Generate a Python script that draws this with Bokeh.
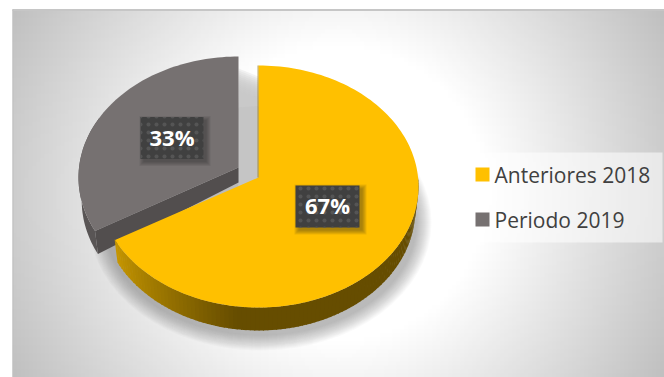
import numpy as np
from bokeh.plotting import figure
from bokeh.models import Range1d
from bokeh.core.properties import value
from bokeh.embed import file_html
from bokeh.resources import INLINE

categories = ["Anteriores 2018", "Periodo 2019"]
shares = [67, 33]
labels = ["67%", "33%"]
top_colors = ["#FFC000", "#767171"]

W, H = 664, 377
p = figure(width=W, height=H, output_backend="svg", toolbar_location=None,
           x_range=Range1d(0, W), y_range=Range1d(0, H), min_border=0)
p.axis.visible = False
p.grid.visible = False
p.outline_line_color = None
p.background_fill_color = "white"
p.border_fill_color = "white"

def Y(py):
    return H - np.asarray(py, dtype=float)

# slide-style radial background
x0, x1, y0, y1 = 12, 664, 9, 377
nx, ny = 163, 92
gx, gy = np.meshgrid(np.linspace(x0, x1, nx), np.linspace(y1, y0, ny))
r = np.hypot(gx - 338, gy - 193)
v = np.clip(255 - 0.28 * np.clip(r - 150, 0, None), 0, 255)
img = np.zeros((ny, nx), dtype=np.uint32)
view = img.view(dtype=np.uint8).reshape((ny, nx, 4))
view[..., 0] = view[..., 1] = view[..., 2] = v.astype(np.uint8)
view[..., 3] = 255
p.image_rgba(image=[img], x=x0, y=Y(y1), dw=x1 - x0, dh=y1 - y0)
p.segment(x0=[x0], y0=Y([y0 + 0.5]), x1=[x1], y1=Y([y0 + 0.5]), line_color="#c6c6c6", line_width=2)
p.segment(x0=[x0 + 0.5], y0=Y([y0]), x1=[x0 + 0.5], y1=Y([y1]), line_color="#c0c0c0", line_width=1)

# pie geometry (pixels)
RX, RY = 160, 121
CENTRES = [(258, 186, 177), (238, 177, 167)]
DEPTH = 23
TILT = 2.5

def rim(theta_deg, c, scale=1.0):
    t = np.radians(theta_deg)
    return c[0] + RX * scale * np.sin(t), c[1] - RY * np.cos(t)

split = shares[0] / sum(shares) * 360 + TILT
arcs = [np.linspace(0, split, 160), np.linspace(split, 360, 80)]

# soft shadow
for k in range(16):
    grow = 16 - k
    p.ellipse(x=[260], y=Y([222]), width=[2 * 155 + 2 * grow], height=[2 * 112 + 2 * grow],
              fill_color="#666666", fill_alpha=0.03, line_color=None)

# shaded gap between the two slices
for k in range(12):
    p.patch([238, 258, 258, 238], Y([68 + 2 * k, 76 + 2 * k, 182, 190]),
            fill_color="#c8c8c8", fill_alpha=0.22, line_color=None)

# grey slice: outer wall, inner wall, top
c = CENTRES[1]
ax = arcs[1]
wall = np.array([a for a in ax if a < 300])
xs, ys = rim(wall, c)
xb, yb = rim(wall, c, 0.98)
p.patch(np.r_[xs, xb[::-1]], Y(np.r_[ys, yb[::-1] + DEPTH]), fill_color="#595555", line_color=None)
ex, ey = rim(split, c)
ebx, eby = rim(split, c, 0.98)
p.patch([c[0], ex, ebx, c[0]], Y([c[2], ey, eby + DEPTH, c[2] + 15]), fill_color="#524E4E", line_color=None)
xs, ys = rim(ax, c)
p.patch(np.r_[c[0], xs], Y(np.r_[c[2], ys]), fill_color=top_colors[1], line_color=None)

# yellow slice: outer wall as shaded strips, then top
c = CENTRES[0]
ax = np.linspace(85, split, 100)
for a, b in zip(ax[:-1], ax[1:]):
    xa, ya = rim(a, c)
    xe, ye = rim(b + 0.4, c)
    xa2, ya2 = rim(a, c, 0.98)
    xe2, ye2 = rim(b + 0.4, c, 0.98)
    f = np.clip((xa2 - 118) / (240 - 118), 0, 1) ** 0.8
    col = (int(200 + (102 - 200) * f), int(152 + (77 - 152) * f), 0)
    p.patch([xa, xe, xe2, xa2], Y([ya, ye, ye2 + DEPTH, ya2 + DEPTH]),
            fill_color="#%02x%02x%02x" % col, line_color=None)
xs, ys = rim(arcs[0], c)
p.patch(np.r_[c[0], xs], Y(np.r_[c[2], ys]), fill_color=top_colors[0], line_color=None)
p.segment(x0=[c[0] - 0.5], y0=Y([c[2]]), x1=[c[0] - 0.5], y1=Y([c[1] - RY]),
          line_color="#8a6a00", line_alpha=0.6, line_width=1)

# data labels
box_x = [327, 171.5]
box_y = [206, 137.5]
bw, bh = [64, 63], 42
for i in range(2):
    for k in range(5):
        p.rect(x=[box_x[i] + 3], y=Y([box_y[i] + 3]), width=[bw[i] + 8 - 2 * k], height=[bh + 8 - 2 * k],
               fill_color="#222222", fill_alpha=0.09, line_color=None)
    p.rect(x=[box_x[i]], y=Y([box_y[i]]), width=[bw[i]], height=[bh], fill_color="#404040", line_color=None,
           hatch_pattern="dot", hatch_color="#555555", hatch_scale=8, hatch_weight=1)
    p.text(x=[box_x[i]], y=Y([box_y[i] - 1.5]), text=[labels[i]], text_align="center", text_baseline="middle",
           text_color="white", text_font=value("Open Sans"), text_font_style="bold", text_font_size="22px")

# legend
p.quad(left=[462], right=[662], top=Y([152]), bottom=Y([242]), fill_color="white", fill_alpha=0.55, line_color=None)
for i, name in enumerate(categories):
    yy = 174 + 45 * i
    p.rect(x=[482], y=Y([yy]), width=[14], height=[14], fill_color=top_colors[i], line_color=None)
    p.text(x=[494], y=Y([yy]), text=[name], text_align="left", text_baseline="middle", text_color="#404040",
           text_font=value("Open Sans"), text_font_size="21px")

open("out.html", "w").write(file_html(p, INLINE))
